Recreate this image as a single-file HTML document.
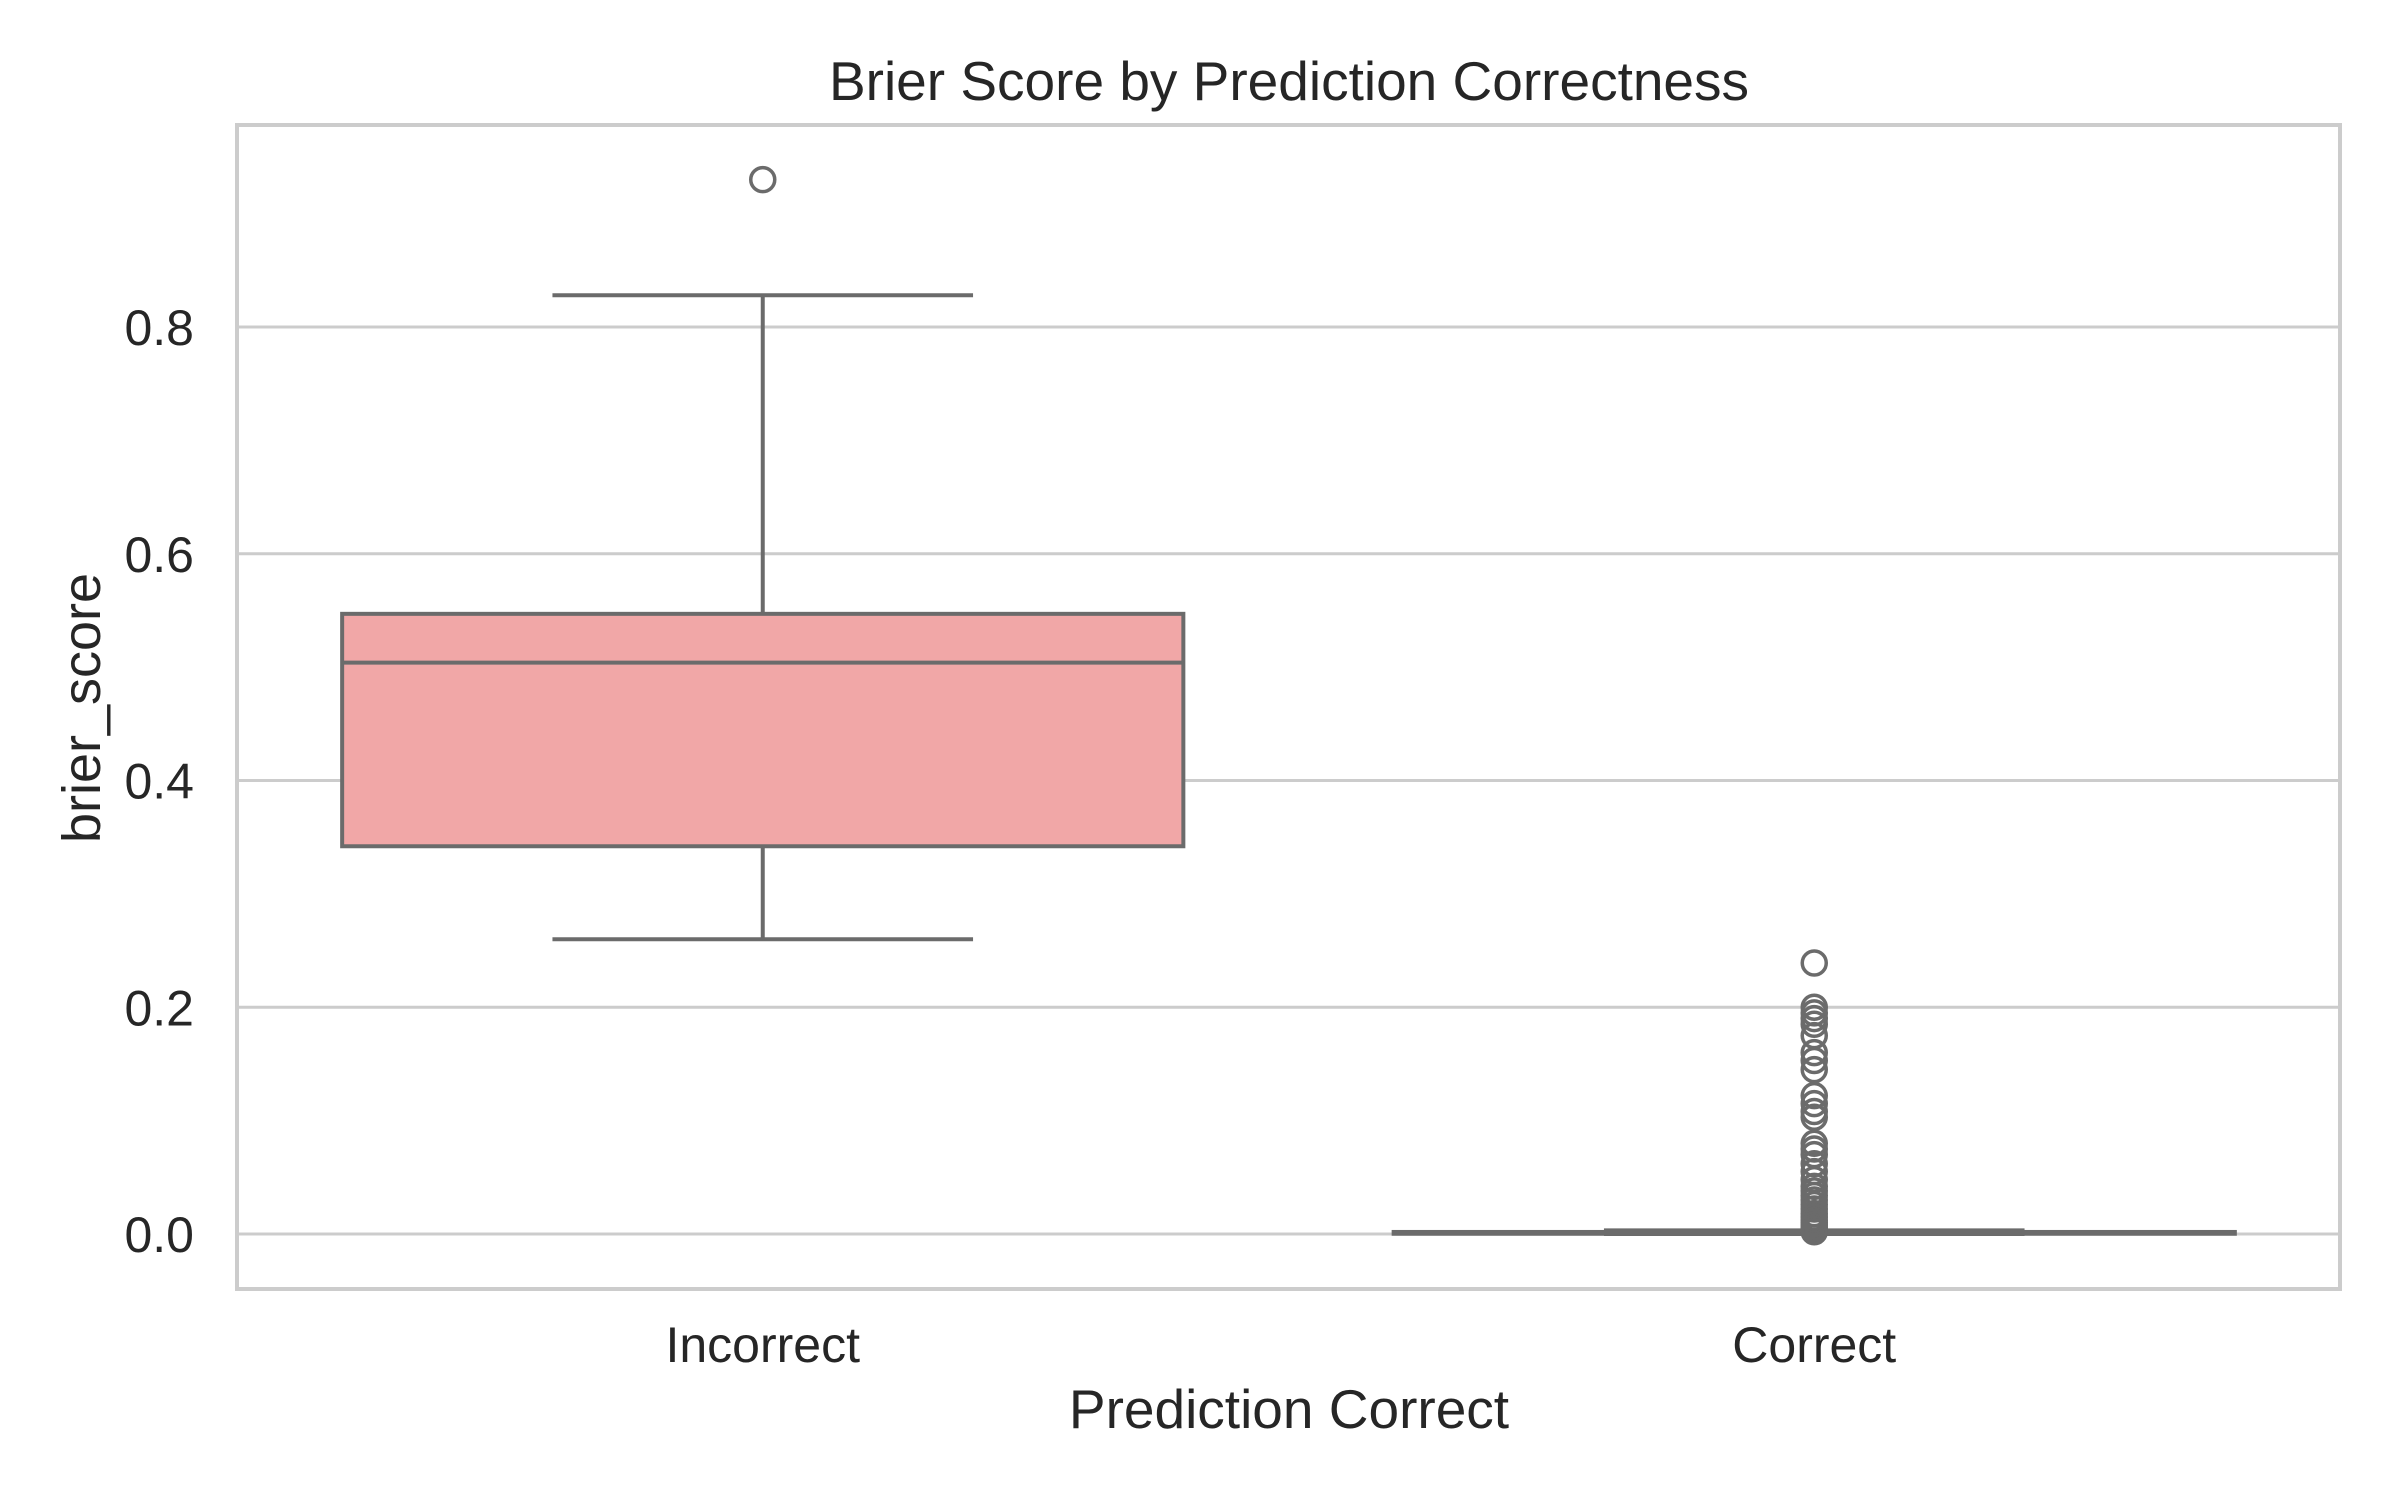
<!DOCTYPE html>
<html><head><meta charset="utf-8">
<style>
html,body{margin:0;padding:0;background:#fff;}
svg{display:block;font-family:"Liberation Sans",Arial,sans-serif;}
</style></head>
<body>
<svg id="chart" width="2400" height="1500" viewBox="0 0 2400 1500" xmlns="http://www.w3.org/2000/svg">
<rect x="0" y="0" width="2400" height="1500" fill="#fff"/>
<text x="1289" y="100" font-size="55" fill="#262626" text-anchor="middle">Brier Score by Prediction Correctness</text>
<text x="1289" y="1428" font-size="55" fill="#262626" text-anchor="middle">Prediction Correct</text>
<text x="0" y="0" font-size="54" fill="#262626" text-anchor="middle" transform="translate(100,708) rotate(-90)">brier_score</text>
<g id="grid"></g>
<g id="marks"></g>
<rect x="237" y="125" width="2103" height="1164" fill="none" stroke="#cccccc" stroke-width="4"/>
</svg>
<script>
const categories = ["Incorrect", "Correct"];
const yTicks = [0.0, 0.2, 0.4, 0.6, 0.8];
const yTickLabels = ["0.0", "0.2", "0.4", "0.6", "0.8"];
const whiskerLow = [0.26, 0.0];
const q1 = [0.342, 0.0002];
const median = [0.504, 0.0008];
const q3 = [0.547, 0.0018];
const whiskerHigh = [0.828, 0.0032];
const outliersIncorrect = [0.93];
const outliersCorrect = [0.239,0.2,0.195,0.19,0.185,0.175,0.16,0.153,0.145,0.122,0.115,0.108,0.103,0.08,0.075,0.07,0.062,0.055,0.048,0.042,0.038,0.034,0.03,0.026,0.022,0.018,0.015,0.012,0.01,0.008,0.006,0.004,0.002];

const NS = "http://www.w3.org/2000/svg";
const L = 237, R = 2340;
function yScale(v){ return 1234 - v * 1133.75; }
function xScale(i){ return L + (R - L) * (i + 0.5) / categories.length; }
const band = (R - L) / categories.length;
function mk(tag, attrs, parent){
  const e = document.createElementNS(NS, tag);
  for (const k in attrs) e.setAttribute(k, attrs[k]);
  parent.appendChild(e);
  return e;
}
const grid = document.getElementById('grid');
const marks = document.getElementById('marks');
const svg = document.getElementById('chart');

yTicks.forEach((t, i) => {
  const y = yScale(t);
  const g = mk('line', {x1: L, x2: R, y1: y, y2: y, stroke: '#cccccc', 'stroke-width': 3}, grid);
  
  
  const tx = mk('text', {x: 194, y: y + 18, 'font-size': 50, fill: '#262626', 'text-anchor': 'end'}, svg);
  tx.textContent = yTickLabels[i];
  
  
});

categories.forEach((c, i) => {
  const cx = xScale(i);
  const tx = mk('text', {x: cx, y: 1362, 'font-size': 50, fill: '#262626', 'text-anchor': 'middle'}, svg);
  tx.textContent = c;
  
  

  const bw = band * 0.8, cw = bw * 0.5;
  const st = {stroke: '#6b6b6b', 'stroke-width': 4};
  const w1 = mk('line', Object.assign({x1: cx, x2: cx, y1: yScale(q1[i]), y2: yScale(whiskerLow[i])}, st), marks);
  
  
  const w2 = mk('line', Object.assign({x1: cx, x2: cx, y1: yScale(q3[i]), y2: yScale(whiskerHigh[i])}, st), marks);
  
  
  const c1 = mk('line', Object.assign({x1: cx - cw/2, x2: cx + cw/2, y1: yScale(whiskerLow[i]), y2: yScale(whiskerLow[i])}, st), marks);
  
  
  const c2 = mk('line', Object.assign({x1: cx - cw/2, x2: cx + cw/2, y1: yScale(whiskerHigh[i]), y2: yScale(whiskerHigh[i])}, st), marks);
  
  
  const yt = yScale(q3[i]), yb = yScale(q1[i]);
  const box = mk('rect', Object.assign({x: cx - bw/2, y: yt, width: bw, height: Math.max(yb - yt, 0.5), fill: '#f1a7a7'}, st), marks);
  
  
  const md = mk('line', Object.assign({x1: cx - bw/2, x2: cx + bw/2, y1: yScale(median[i]), y2: yScale(median[i])}, st), marks);
  
  

  const outs = i === 0 ? outliersIncorrect : outliersCorrect;
  outs.forEach(v => {
    const o = mk('circle', {cx: cx, cy: yScale(v), r: 12, fill: 'none', stroke: '#6b6b6b', 'stroke-width': 3.5}, marks);
    
    
  });
});
</script>
</body></html>
